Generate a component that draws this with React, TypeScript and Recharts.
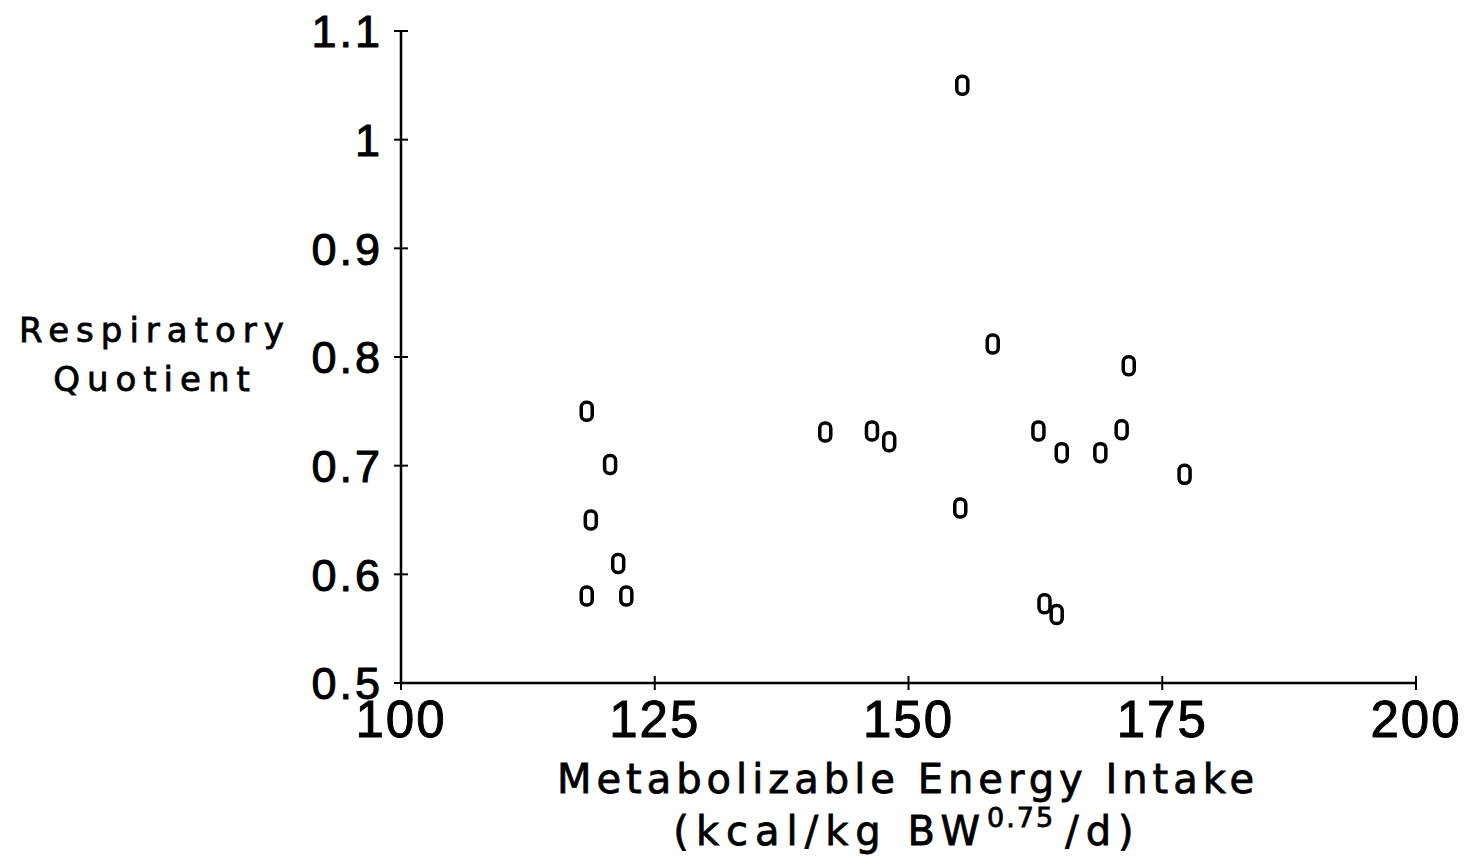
import React from "react";
import { ScatterChart, Scatter, XAxis, YAxis, Label } from "recharts";

// Metabolizable energy intake (kcal/kg BW^0.75/d)
const intake = [118.3, 120.6, 118.7, 121.4, 118.3, 122.2, 141.8, 146.4, 148.1, 155.3, 155.1, 158.3, 162.8, 165.1, 163.4, 164.6, 168.9, 171.0, 171.7, 177.2];
// Respiratory quotient
const rq = [0.750, 0.701, 0.650, 0.610, 0.580, 0.580, 0.731, 0.732, 0.722, 1.050, 0.661, 0.812, 0.732, 0.712, 0.573, 0.563, 0.712, 0.733, 0.792, 0.692];

const xTicks = [100, 125, 150, 175, 200];
const yTicks = [0.5, 0.6, 0.7, 0.8, 0.9, 1, 1.1];

const points = intake.map((x, i) => ({ x, y: rq[i] }));

const TICK_FONT = "'Liberation Sans', Arial, sans-serif";
const TITLE_FONT = "'DejaVu Sans', sans-serif";

const Marker = (props: any) => {
  const { cx, cy } = props;
  return <rect x={cx - 5.5} y={cy - 9} width={11} height={18} rx={5} fill="none" stroke="#000" strokeWidth={3.5} />;
};

const YTick = (props: any) => {
  const { x, y, payload } = props;
  return (
    <g>
      <line x1={x - 7} x2={x + 7} y1={y} y2={y} stroke="#000" strokeWidth={2} />
      <text x={x - 18} y={y} dy="0.36em" textAnchor="end" fontSize={45} fontFamily={TICK_FONT} letterSpacing={3} fill="#000" stroke="#000" strokeWidth={1}>
        {payload.value}
      </text>
    </g>
  );
};

const XTick = (props: any) => {
  const { x, y, payload } = props;
  return (
    <g>
      <line x1={x} x2={x} y1={y - 7} y2={y + 7} stroke="#000" strokeWidth={2} />
      <text x={x} y={y + 54} textAnchor="middle" fontSize={51} fontFamily={TICK_FONT} letterSpacing={2} fill="#000" stroke="#000" strokeWidth={1}>
        {payload.value}
      </text>
    </g>
  );
};

const XTitle = () => (
  <g fontFamily={TITLE_FONT} fill="#000" stroke="#000" strokeWidth={0.8}>
    <text x={908} y={793} textAnchor="middle" fontSize={40} letterSpacing={5}>
      Metabolizable Energy Intake
    </text>
    <text x={907} y={845} textAnchor="middle" fontSize={40} letterSpacing={7}>
      (kcal/kg BW
      <tspan fontSize={27} dy={-18} letterSpacing={2}>0.75</tspan>
      <tspan dy={18} dx={10}>/d)</tspan>
    </text>
  </g>
);

const YTitle = () => (
  <g fontFamily={TITLE_FONT} fill="#000" stroke="#000" strokeWidth={0.8}>
    <text x={155} y={342} textAnchor="middle" fontSize={34} letterSpacing={7}>
      Respiratory
    </text>
    <text x={155} y={391} textAnchor="middle" fontSize={34} letterSpacing={7}>
      Quotient
    </text>
  </g>
);

export default function App() {
  return (
    <div style={{ position: "absolute", left: 0, top: 0, background: "#fff" }}>
      <ScatterChart width={1474} height={862} margin={{ top: 31, right: 58, bottom: 119, left: 301 }}>
        <XAxis
          type="number"
          dataKey="x"
          domain={[100, 200]}
          ticks={xTicks}
          tickSize={0}
          tickMargin={0}
          tickLine={false}
          tick={<XTick />}
          height={60}
          axisLine={{ stroke: "#000", strokeWidth: 2.5 }}
        >
          <Label content={<XTitle />} />
        </XAxis>
        <YAxis
          type="number"
          dataKey="y"
          domain={[0.5, 1.1]}
          ticks={yTicks}
          tickSize={0}
          tickMargin={0}
          tickLine={false}
          tick={<YTick />}
          width={100}
          axisLine={{ stroke: "#000", strokeWidth: 2.5 }}
        >
          <Label content={<YTitle />} />
        </YAxis>
        <Scatter data={points} shape={<Marker />} isAnimationActive={false} />
      </ScatterChart>
    </div>
  );
}
